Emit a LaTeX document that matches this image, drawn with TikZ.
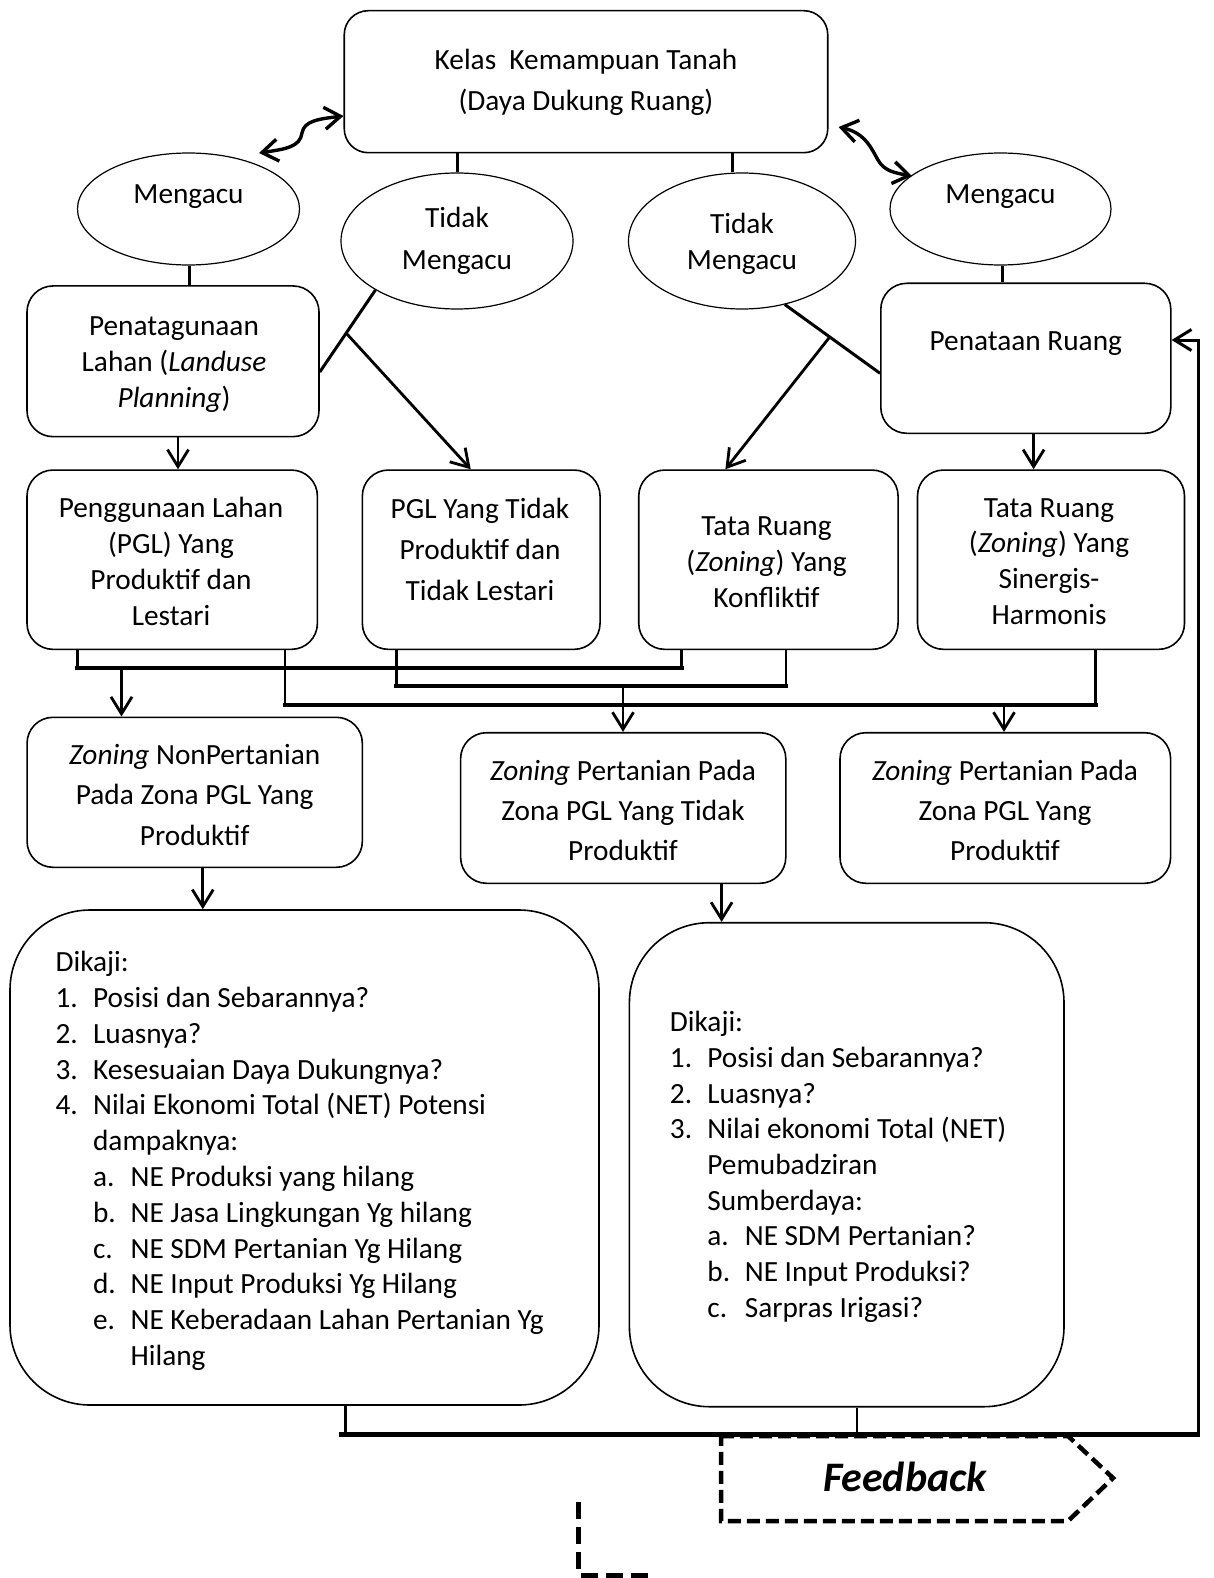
\documentclass[tikz,border=0pt]{standalone}
\usepackage{fontspec}
\setmainfont{Carlito}
\usetikzlibrary{shapes.geometric,arrows.meta,calc}
\newcommand{\nm}[1]{\makebox[37.5pt][l]{#1}}
\newcommand{\sbm}[1]{\hspace*{37.5pt}\makebox[37.5pt][l]{#1}}
\begin{document}
\begin{tikzpicture}[x=1pt,y=-1pt,
  txt/.style={inner sep=0pt, align=center, font=\fontsize{29.3}{#1}\selectfont},
  txt/.default=35.8,
  box/.style={draw, line width=1.6pt, rounded corners=26pt, inner sep=0pt},
  ell/.style={draw, ellipse, line width=1.2pt, inner sep=0pt},
  conn/.style={line width=3pt},
  vcon/.style={line width=2.4pt},
  hcon/.style={line width=4.4pt, line cap=rect},
  arr/.style={line width=2.8pt, -{Straight Barb[length=17pt,width=21pt]}},
  wav/.style={line width=3.4pt, {Straight Barb[length=16pt,width=22pt]}-{Straight Barb[length=16pt,width=22pt]}},
  dsh/.style={line width=4.5pt, dash pattern=on 13pt off 6pt},
]
\useasboundingbox (0,0) rectangle (1214,1578);

% top box
\node[box, rounded corners=24pt, minimum width=483.5pt, minimum height=142pt] (Top) at (586,81.7) {};
\node[txt=41.6] (Topt) at (586,82.5) {Kelas\ \ Kemampuan Tanah\\(Daya Dukung Ruang)};

% ellipses
\node[ell, minimum width=222pt, minimum height=112pt] (M1) at (188.5,209) {};
\node[txt] (M1t) at (188.5,197) {Mengacu};
\node[ell, minimum width=232pt, minimum height=136pt] (T1) at (457,241) {};
\node[txt=41.7] (T1t) at (457,241) {Tidak\\Mengacu};
\node[ell, minimum width=227pt, minimum height=136pt] (T2) at (742,241) {};
\node[txt] (T2t) at (742,244) {Tidak\\Mengacu};
\node[ell, minimum width=221pt, minimum height=112pt] (M2) at (1000.5,209) {};
\node[txt] (M2t) at (1000.5,197) {Mengacu};

% second row
\node[box, minimum width=292pt, minimum height=150.7pt] (PL) at (173,361.3) {};
\node[txt] (PLt) at (174,364.7) {Penatagunaan\\Lahan (\textit{Landuse}\\\textit{Planning})};
\node[box, minimum width=290pt, minimum height=150pt] (PR) at (1025.8,358.3) {};
\node[txt] (PRt) at (1025.8,344) {Penataan Ruang};

% third row
\node[box, minimum width=290.4pt, minimum height=179.3pt] (B1) at (172.2,559.7) {};
\node[txt] (B1t) at (171,561.5) {Penggunaan Lahan\\(PGL) Yang\\Produktif dan\\Lestari};
\node[box, minimum width=237.7pt, minimum height=179.3pt] (B2) at (481.2,559.7) {};
\node[txt=41] (B2t) at (480,549) {PGL Yang Tidak\\Produktif dan\\Tidak Lestari};
\node[box, minimum width=259.3pt, minimum height=179.3pt] (B3) at (768.4,559.7) {};
\node[txt] (B3t) at (766.5,562) {Tata Ruang\\(\textit{Zoning}) Yang\\Konfliktif};
\node[box, minimum width=267pt, minimum height=179.3pt] (B4) at (1051,559.7) {};
\node[txt] (B4t) at (1049,561.5) {Tata Ruang\\(\textit{Zoning}) Yang\\Sinergis-\\Harmonis};

% fourth row
\node[box, minimum width=335.3pt, minimum height=150pt] (B5) at (194.7,792.3) {};
\node[txt=40.5] (B5t) at (194.7,795) {\textit{Zoning} NonPertanian\\Pada Zona PGL Yang\\Produktif};
\node[box, minimum width=325.2pt, minimum height=150.6pt] (B6) at (623.2,808) {};
\node[txt=40] (B6t) at (623,810) {\textit{Zoning} Pertanian Pada\\Zona PGL Yang Tidak\\Produktif};
\node[box, minimum width=330.6pt, minimum height=150.6pt] (B7) at (1005.3,808) {};
\node[txt=40] (B7t) at (1005,810) {\textit{Zoning} Pertanian Pada\\Zona PGL Yang\\Produktif};

% fifth row
\node[box, rounded corners=80pt, minimum width=589pt, minimum height=495pt] (B8) at (304.5,1157.5) {};
\node[anchor=base west, inner sep=0pt, font=\fontsize{29.3}{35.8}\selectfont] (B8t) at (55.4,971.7) {\begin{minipage}[t]{540pt}\raggedright
Dikaji:\\
\nm{1.}Posisi dan Sebarannya?\\
\nm{2.}Luasnya?\\
\nm{3.}Kesesuaian Daya Dukungnya?\\
\nm{4.}Nilai Ekonomi Total (NET) Potensi\\
\hspace*{37.5pt}dampaknya:\\
\sbm{a.}NE Produksi yang hilang\\
\sbm{b.}NE Jasa Lingkungan Yg hilang\\
\sbm{c.}NE SDM Pertanian Yg Hilang\\
\sbm{d.}NE Input Produksi Yg Hilang\\
\sbm{e.}NE Keberadaan Lahan Pertanian Yg\\
\hspace*{75pt}Hilang
\end{minipage}};
\node[box, rounded corners=80pt, minimum width=434.6pt, minimum height=484pt] (B9) at (846.7,1164.7) {};
\node[anchor=base west, inner sep=0pt, font=\fontsize{29.3}{35.7}\selectfont] (B9t) at (669.7,1031.7) {\begin{minipage}[t]{380pt}\raggedright
Dikaji:\\
\nm{1.}Posisi dan Sebarannya?\\
\nm{2.}Luasnya?\\
\nm{3.}Nilai ekonomi Total (NET)\\
\hspace*{37.5pt}Pemubadziran\\
\hspace*{37.5pt}Sumberdaya:\\
\sbm{a.}NE SDM Pertanian?\\
\sbm{b.}NE Input Produksi?\\
\sbm{c.}Sarpras Irigasi?
\end{minipage}};

% connectors top
\draw[conn] (Top.south -| T1.north) -- (T1.north);
\draw[conn] (Top.south -| 732.4,0) -- (T2.north -| 732.4,0);
\draw[conn] (M1.south -| 189.7,0) -- (PL.north -| 189.7,0);
\draw[conn] (M2.south -| 1002.6,0) -- (PR.north -| 1002.6,0);

% wavy double arrows
\coordinate (wL) at (259,153);
\coordinate (wR) at (912,176);
\draw[wav] (wL) .. controls (286,149) and (300,147) .. (302,133) .. controls (304,121) and (318,119) .. (Top.west |- 0,116);
\draw[wav] ($(Top.east |- 0,127)+(10,0)$) .. controls (866,133) and (872,150) .. (878,160) .. controls (884,171) and (895,173) .. (wR);

% diagonals
\draw[conn] (T1.211) -- (PL.east |- 0,372);
\coordinate (jL) at ($(T1.211)!0.526!(PL.east |- 0,372)$);
\draw[arr] (jL) -- (B2.north -| 470.7,0);
\draw[conn] (T2.304) -- (PR.west |- 0,373.3);
\coordinate (jR) at ($(T2.304)!0.4715!(PR.west |- 0,373.3)$);
\draw[arr] (jR) -- (B3.north -| 725.4,0);

% down arrows
\draw[arr] (PL.south -| 178,0) -- (B1.north -| 178,0);
\draw[arr] (PR.south -| 1033.6,0) -- (B4.north -| 1033.6,0);

% network
\coordinate (n1a) at (77.4,667.7); \coordinate (n1b) at (681.3,667.7);
\coordinate (n2a) at (396.4,686); \coordinate (n2b) at (785.8,686);
\coordinate (n3a) at (285,705); \coordinate (n3b) at (1095.5,705);
\draw[vcon] (B1.south -| n1a) -- (n1a);
\draw[vcon] (B3.south -| n1b) -- (n1b);
\draw[hcon] (n1a) -- (n1b);
\draw[vcon] (B2.south -| n2a) -- (n2a);
\draw[vcon] (B3.south -| n2b) -- (n2b);
\draw[hcon] (n2a) -- (n2b);
\draw[vcon] (B1.south -| n3a) -- (n3a);
\draw[vcon] (B4.south -| n3b) -- (n3b);
\draw[hcon] (n3a) -- (n3b);
\draw[arr] (n1a -| 121.5,0) -- (B5.north -| 121.5,0);
\draw[arr] (n2a -| 623,0) -- (B6.north -| 623,0);
\draw[arr] (n3a -| 1004,0) -- (B7.north -| 1004,0);

% to bottom boxes
\draw[arr] (B5.south -| 202.8,0) -- (B8.north -| 202.8,0);
\draw[arr] (B6.south -| 721.6,0) -- (B9.north -| 721.6,0);

% feedback loop
\coordinate (fbL) at (340.8,1434.3);
\coordinate (fbR) at (1198,1434.3);
\draw[vcon] (B8.south -| 345.5,0) -- (fbL -| 345.5,0);
\draw[vcon] (B9.south -| 856.7,0) -- (fbL -| 856.7,0);
\draw[hcon] (fbL) -- (fbR);
\draw[arr, line width=3pt] (fbR) -- (fbR |- 0,340) -- (PR.east |- 0,340);

% feedback shape
\draw[dsh] (721,1436) -- (1068,1436) -- (1113,1478) -- (1068,1521) -- (721,1521) -- cycle;
\node[inner sep=0pt, font=\fontsize{42}{50}\selectfont\bfseries\itshape] (fbt) at (905,1477) {Feedback};

% dashed corner at the bottom
\draw[line width=5pt, dash pattern=on 17pt off 8pt] (578.6,1502) -- (578.6,1575) -- (653,1575);
\end{tikzpicture}
\end{document}
